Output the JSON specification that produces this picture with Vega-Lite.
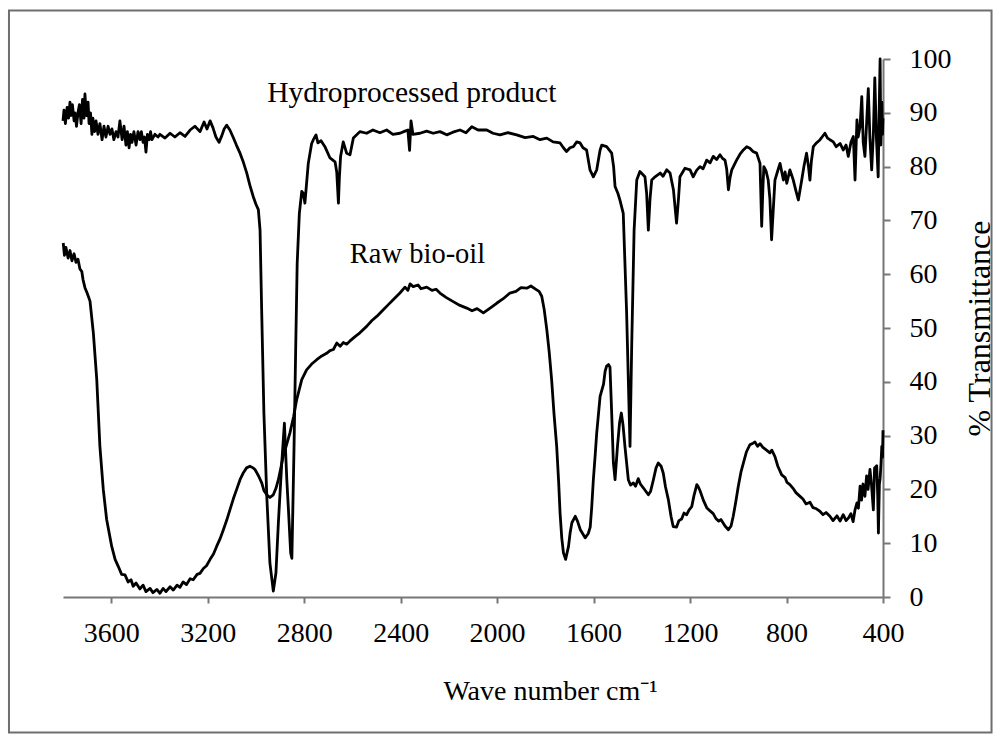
{
  "$schema": "https://vega.github.io/schema/vega-lite/v6.json",
  "width": 820,
  "height": 538,
  "autosize": {"type": "none"},
  "padding": {"left": 63, "top": 59, "right": 113, "bottom": 139},
  "background": "white",
  "config": {"view": {"stroke": null}, "font": "Liberation Serif"},
  "datasets": {
    "spectra": [
      {"series":"Hydroprocessed product","wn":3800,"T":88.5},{"series":"Hydroprocessed product","wn":3796,"T":90.5},{"series":"Hydroprocessed product","wn":3790,"T":88},{"series":"Hydroprocessed product","wn":3783,"T":91},{"series":"Hydroprocessed product","wn":3777,"T":89},{"series":"Hydroprocessed product","wn":3771,"T":92},{"series":"Hydroprocessed product","wn":3767,"T":89.5},{"series":"Hydroprocessed product","wn":3761,"T":91.5},{"series":"Hydroprocessed product","wn":3754,"T":88.5},{"series":"Hydroprocessed product","wn":3750,"T":90},{"series":"Hydroprocessed product","wn":3744,"T":87.5},{"series":"Hydroprocessed product","wn":3738,"T":90},{"series":"Hydroprocessed product","wn":3732,"T":91.5},{"series":"Hydroprocessed product","wn":3725,"T":88},{"series":"Hydroprocessed product","wn":3719,"T":92.5},{"series":"Hydroprocessed product","wn":3713,"T":89},{"series":"Hydroprocessed product","wn":3709,"T":93.5},{"series":"Hydroprocessed product","wn":3703,"T":89.5},{"series":"Hydroprocessed product","wn":3696,"T":92},{"series":"Hydroprocessed product","wn":3692,"T":88},{"series":"Hydroprocessed product","wn":3686,"T":90},{"series":"Hydroprocessed product","wn":3680,"T":86},{"series":"Hydroprocessed product","wn":3676,"T":89},{"series":"Hydroprocessed product","wn":3669,"T":86.5},{"series":"Hydroprocessed product","wn":3663,"T":88.5},{"series":"Hydroprocessed product","wn":3655,"T":86},{"series":"Hydroprocessed product","wn":3647,"T":88},{"series":"Hydroprocessed product","wn":3638,"T":85},{"series":"Hydroprocessed product","wn":3630,"T":87.5},{"series":"Hydroprocessed product","wn":3622,"T":85.5},{"series":"Hydroprocessed product","wn":3613,"T":87.5},{"series":"Hydroprocessed product","wn":3605,"T":86},{"series":"Hydroprocessed product","wn":3597,"T":87},{"series":"Hydroprocessed product","wn":3589,"T":85},{"series":"Hydroprocessed product","wn":3580,"T":86.5},{"series":"Hydroprocessed product","wn":3572,"T":85.5},{"series":"Hydroprocessed product","wn":3564,"T":88.5},{"series":"Hydroprocessed product","wn":3555,"T":85},{"series":"Hydroprocessed product","wn":3547,"T":87.5},{"series":"Hydroprocessed product","wn":3539,"T":84},{"series":"Hydroprocessed product","wn":3533,"T":86.5},{"series":"Hydroprocessed product","wn":3526,"T":83.5},{"series":"Hydroprocessed product","wn":3520,"T":86},{"series":"Hydroprocessed product","wn":3514,"T":84.5},{"series":"Hydroprocessed product","wn":3506,"T":86.5},{"series":"Hydroprocessed product","wn":3497,"T":84},{"series":"Hydroprocessed product","wn":3489,"T":86.5},{"series":"Hydroprocessed product","wn":3481,"T":85},{"series":"Hydroprocessed product","wn":3475,"T":86.5},{"series":"Hydroprocessed product","wn":3468,"T":84.5},{"series":"Hydroprocessed product","wn":3462,"T":85.5},{"series":"Hydroprocessed product","wn":3456,"T":82.7},{"series":"Hydroprocessed product","wn":3450,"T":86},{"series":"Hydroprocessed product","wn":3443,"T":85},{"series":"Hydroprocessed product","wn":3437,"T":86.5},{"series":"Hydroprocessed product","wn":3431,"T":85},{"series":"Hydroprocessed product","wn":3419,"T":86},{"series":"Hydroprocessed product","wn":3406,"T":85.5},{"series":"Hydroprocessed product","wn":3398,"T":86},{"series":"Hydroprocessed product","wn":3377,"T":85.3},{"series":"Hydroprocessed product","wn":3356,"T":86.2},{"series":"Hydroprocessed product","wn":3336,"T":85.5},{"series":"Hydroprocessed product","wn":3315,"T":86.3},{"series":"Hydroprocessed product","wn":3294,"T":85.6},{"series":"Hydroprocessed product","wn":3273,"T":86.8},{"series":"Hydroprocessed product","wn":3253,"T":87.5},{"series":"Hydroprocessed product","wn":3232,"T":86.5},{"series":"Hydroprocessed product","wn":3215,"T":88.3},{"series":"Hydroprocessed product","wn":3203,"T":87},{"series":"Hydroprocessed product","wn":3190,"T":88.5},{"series":"Hydroprocessed product","wn":3178,"T":87.2},{"series":"Hydroprocessed product","wn":3166,"T":85.5},{"series":"Hydroprocessed product","wn":3153,"T":84.5},{"series":"Hydroprocessed product","wn":3141,"T":85.8},{"series":"Hydroprocessed product","wn":3132,"T":87},{"series":"Hydroprocessed product","wn":3121,"T":87.7},{"series":"Hydroprocessed product","wn":3108,"T":86.8},{"series":"Hydroprocessed product","wn":3095,"T":85.5},{"series":"Hydroprocessed product","wn":3081,"T":84},{"series":"Hydroprocessed product","wn":3066,"T":82.5},{"series":"Hydroprocessed product","wn":3052,"T":80.8},{"series":"Hydroprocessed product","wn":3038,"T":78.8},{"series":"Hydroprocessed product","wn":3025,"T":76.5},{"series":"Hydroprocessed product","wn":3011,"T":74.4},{"series":"Hydroprocessed product","wn":3000,"T":73},{"series":"Hydroprocessed product","wn":2990,"T":72},{"series":"Hydroprocessed product","wn":2983,"T":68.2},{"series":"Hydroprocessed product","wn":2976,"T":52.8},{"series":"Hydroprocessed product","wn":2967,"T":34.2},{"series":"Hydroprocessed product","wn":2955,"T":18.7},{"series":"Hydroprocessed product","wn":2942,"T":6.3},{"series":"Hydroprocessed product","wn":2928,"T":1.1},{"series":"Hydroprocessed product","wn":2917,"T":4.5},{"series":"Hydroprocessed product","wn":2907,"T":13.8},{"series":"Hydroprocessed product","wn":2893,"T":24.9},{"series":"Hydroprocessed product","wn":2882,"T":32.3},{"series":"Hydroprocessed product","wn":2872,"T":21.8},{"series":"Hydroprocessed product","wn":2866,"T":16.9},{"series":"Hydroprocessed product","wn":2856,"T":8.2},{"series":"Hydroprocessed product","wn":2851,"T":7.2},{"series":"Hydroprocessed product","wn":2842,"T":28},{"series":"Hydroprocessed product","wn":2835,"T":46.6},{"series":"Hydroprocessed product","wn":2829,"T":62},{"series":"Hydroprocessed product","wn":2820,"T":71.3},{"series":"Hydroprocessed product","wn":2810,"T":75.4},{"series":"Hydroprocessed product","wn":2803,"T":75},{"series":"Hydroprocessed product","wn":2797,"T":73.2},{"series":"Hydroprocessed product","wn":2783,"T":80.6},{"series":"Hydroprocessed product","wn":2769,"T":84.3},{"series":"Hydroprocessed product","wn":2762,"T":85},{"series":"Hydroprocessed product","wn":2751,"T":85.9},{"series":"Hydroprocessed product","wn":2743,"T":84.4},{"series":"Hydroprocessed product","wn":2730,"T":84.8},{"series":"Hydroprocessed product","wn":2714,"T":83.7},{"series":"Hydroprocessed product","wn":2693,"T":81.6},{"series":"Hydroprocessed product","wn":2672,"T":80.9},{"series":"Hydroprocessed product","wn":2665,"T":79},{"series":"Hydroprocessed product","wn":2658,"T":73.2},{"series":"Hydroprocessed product","wn":2654,"T":78},{"series":"Hydroprocessed product","wn":2649,"T":81.9},{"series":"Hydroprocessed product","wn":2638,"T":84.6},{"series":"Hydroprocessed product","wn":2624,"T":82.5},{"series":"Hydroprocessed product","wn":2610,"T":82.2},{"series":"Hydroprocessed product","wn":2596,"T":85.3},{"series":"Hydroprocessed product","wn":2569,"T":86.5},{"series":"Hydroprocessed product","wn":2541,"T":86.2},{"series":"Hydroprocessed product","wn":2515,"T":86.8},{"series":"Hydroprocessed product","wn":2486,"T":86.3},{"series":"Hydroprocessed product","wn":2458,"T":86.8},{"series":"Hydroprocessed product","wn":2432,"T":86},{"series":"Hydroprocessed product","wn":2403,"T":86.2},{"series":"Hydroprocessed product","wn":2382,"T":86.6},{"series":"Hydroprocessed product","wn":2370,"T":86.8},{"series":"Hydroprocessed product","wn":2363,"T":83},{"series":"Hydroprocessed product","wn":2357,"T":88.5},{"series":"Hydroprocessed product","wn":2349,"T":86},{"series":"Hydroprocessed product","wn":2320,"T":86.2},{"series":"Hydroprocessed product","wn":2292,"T":86.6},{"series":"Hydroprocessed product","wn":2265,"T":86.2},{"series":"Hydroprocessed product","wn":2237,"T":86.5},{"series":"Hydroprocessed product","wn":2209,"T":85.9},{"series":"Hydroprocessed product","wn":2183,"T":86.4},{"series":"Hydroprocessed product","wn":2154,"T":86.8},{"series":"Hydroprocessed product","wn":2129,"T":86.3},{"series":"Hydroprocessed product","wn":2105,"T":87.4},{"series":"Hydroprocessed product","wn":2079,"T":86.8},{"series":"Hydroprocessed product","wn":2043,"T":86.8},{"series":"Hydroprocessed product","wn":2017,"T":86.2},{"series":"Hydroprocessed product","wn":1988,"T":85.9},{"series":"Hydroprocessed product","wn":1955,"T":86.3},{"series":"Hydroprocessed product","wn":1919,"T":85.9},{"series":"Hydroprocessed product","wn":1884,"T":85.4},{"series":"Hydroprocessed product","wn":1850,"T":85.6},{"series":"Hydroprocessed product","wn":1822,"T":85},{"series":"Hydroprocessed product","wn":1794,"T":85.3},{"series":"Hydroprocessed product","wn":1768,"T":84.6},{"series":"Hydroprocessed product","wn":1739,"T":84.4},{"series":"Hydroprocessed product","wn":1725,"T":83.5},{"series":"Hydroprocessed product","wn":1712,"T":82.8},{"series":"Hydroprocessed product","wn":1698,"T":83.5},{"series":"Hydroprocessed product","wn":1684,"T":83.7},{"series":"Hydroprocessed product","wn":1670,"T":84.6},{"series":"Hydroprocessed product","wn":1656,"T":84.4},{"series":"Hydroprocessed product","wn":1644,"T":83.5},{"series":"Hydroprocessed product","wn":1629,"T":83.1},{"series":"Hydroprocessed product","wn":1615,"T":79.4},{"series":"Hydroprocessed product","wn":1601,"T":78.1},{"series":"Hydroprocessed product","wn":1587,"T":79.4},{"series":"Hydroprocessed product","wn":1573,"T":83.1},{"series":"Hydroprocessed product","wn":1566,"T":84},{"series":"Hydroprocessed product","wn":1546,"T":83.7},{"series":"Hydroprocessed product","wn":1525,"T":82.5},{"series":"Hydroprocessed product","wn":1517,"T":80},{"series":"Hydroprocessed product","wn":1511,"T":76.3},{"series":"Hydroprocessed product","wn":1499,"T":75},{"series":"Hydroprocessed product","wn":1491,"T":73.8},{"series":"Hydroprocessed product","wn":1477,"T":71.3},{"series":"Hydroprocessed product","wn":1463,"T":52.8},{"series":"Hydroprocessed product","wn":1456,"T":40.4},{"series":"Hydroprocessed product","wn":1449,"T":28},{"series":"Hydroprocessed product","wn":1442,"T":46.6},{"series":"Hydroprocessed product","wn":1432,"T":68.2},{"series":"Hydroprocessed product","wn":1421,"T":77.5},{"series":"Hydroprocessed product","wn":1408,"T":79.1},{"series":"Hydroprocessed product","wn":1387,"T":78.1},{"series":"Hydroprocessed product","wn":1380,"T":75},{"series":"Hydroprocessed product","wn":1373,"T":68.2},{"series":"Hydroprocessed product","wn":1366,"T":74},{"series":"Hydroprocessed product","wn":1359,"T":77.5},{"series":"Hydroprocessed product","wn":1345,"T":78.1},{"series":"Hydroprocessed product","wn":1324,"T":78.8},{"series":"Hydroprocessed product","wn":1312,"T":78.2},{"series":"Hydroprocessed product","wn":1297,"T":79.4},{"series":"Hydroprocessed product","wn":1283,"T":78.8},{"series":"Hydroprocessed product","wn":1269,"T":75.7},{"series":"Hydroprocessed product","wn":1256,"T":69.5},{"series":"Hydroprocessed product","wn":1248,"T":74},{"series":"Hydroprocessed product","wn":1242,"T":78.1},{"series":"Hydroprocessed product","wn":1221,"T":79.7},{"series":"Hydroprocessed product","wn":1200,"T":79.4},{"series":"Hydroprocessed product","wn":1187,"T":78.1},{"series":"Hydroprocessed product","wn":1173,"T":79.3},{"series":"Hydroprocessed product","wn":1159,"T":80},{"series":"Hydroprocessed product","wn":1146,"T":79.6},{"series":"Hydroprocessed product","wn":1131,"T":81.2},{"series":"Hydroprocessed product","wn":1117,"T":80.7},{"series":"Hydroprocessed product","wn":1104,"T":81.9},{"series":"Hydroprocessed product","wn":1090,"T":81.3},{"series":"Hydroprocessed product","wn":1076,"T":82.2},{"series":"Hydroprocessed product","wn":1065,"T":81.5},{"series":"Hydroprocessed product","wn":1055,"T":81.2},{"series":"Hydroprocessed product","wn":1048,"T":79.5},{"series":"Hydroprocessed product","wn":1041,"T":75.7},{"series":"Hydroprocessed product","wn":1034,"T":78},{"series":"Hydroprocessed product","wn":1027,"T":79.4},{"series":"Hydroprocessed product","wn":1007,"T":81.2},{"series":"Hydroprocessed product","wn":993,"T":82.3},{"series":"Hydroprocessed product","wn":979,"T":83.1},{"series":"Hydroprocessed product","wn":965,"T":83.7},{"series":"Hydroprocessed product","wn":952,"T":83.4},{"series":"Hydroprocessed product","wn":939,"T":82.8},{"series":"Hydroprocessed product","wn":924,"T":82.5},{"series":"Hydroprocessed product","wn":910,"T":80.6},{"series":"Hydroprocessed product","wn":903,"T":68.9},{"series":"Hydroprocessed product","wn":898,"T":76},{"series":"Hydroprocessed product","wn":894,"T":80},{"series":"Hydroprocessed product","wn":885,"T":79.2},{"series":"Hydroprocessed product","wn":876,"T":77.5},{"series":"Hydroprocessed product","wn":869,"T":74},{"series":"Hydroprocessed product","wn":862,"T":66.4},{"series":"Hydroprocessed product","wn":855,"T":72},{"series":"Hydroprocessed product","wn":848,"T":77.5},{"series":"Hydroprocessed product","wn":838,"T":79},{"series":"Hydroprocessed product","wn":827,"T":80.6},{"series":"Hydroprocessed product","wn":813,"T":77.5},{"series":"Hydroprocessed product","wn":806,"T":79},{"series":"Hydroprocessed product","wn":799,"T":76.9},{"series":"Hydroprocessed product","wn":786,"T":79.4},{"series":"Hydroprocessed product","wn":772,"T":77.5},{"series":"Hydroprocessed product","wn":761,"T":75.5},{"series":"Hydroprocessed product","wn":751,"T":73.8},{"series":"Hydroprocessed product","wn":737,"T":77.5},{"series":"Hydroprocessed product","wn":728,"T":80},{"series":"Hydroprocessed product","wn":717,"T":82.5},{"series":"Hydroprocessed product","wn":709,"T":80},{"series":"Hydroprocessed product","wn":703,"T":77.5},{"series":"Hydroprocessed product","wn":697,"T":81},{"series":"Hydroprocessed product","wn":689,"T":83.7},{"series":"Hydroprocessed product","wn":676,"T":84.4},{"series":"Hydroprocessed product","wn":661,"T":85},{"series":"Hydroprocessed product","wn":651,"T":85.6},{"series":"Hydroprocessed product","wn":641,"T":86.2},{"series":"Hydroprocessed product","wn":630,"T":85.3},{"series":"Hydroprocessed product","wn":620,"T":85},{"series":"Hydroprocessed product","wn":606,"T":84.6},{"series":"Hydroprocessed product","wn":594,"T":83.7},{"series":"Hydroprocessed product","wn":578,"T":84.3},{"series":"Hydroprocessed product","wn":565,"T":83.1},{"series":"Hydroprocessed product","wn":553,"T":84},{"series":"Hydroprocessed product","wn":544,"T":81.9},{"series":"Hydroprocessed product","wn":533,"T":84.5},{"series":"Hydroprocessed product","wn":523,"T":85.6},{"series":"Hydroprocessed product","wn":516,"T":77.5},{"series":"Hydroprocessed product","wn":508,"T":88.7},{"series":"Hydroprocessed product","wn":503,"T":85.5},{"series":"Hydroprocessed product","wn":495,"T":87.5},{"series":"Hydroprocessed product","wn":488,"T":93},{"series":"Hydroprocessed product","wn":482,"T":84.5},{"series":"Hydroprocessed product","wn":475,"T":81.9},{"series":"Hydroprocessed product","wn":468,"T":88},{"series":"Hydroprocessed product","wn":461,"T":94.5},{"series":"Hydroprocessed product","wn":454,"T":85},{"series":"Hydroprocessed product","wn":447,"T":79.4},{"series":"Hydroprocessed product","wn":440,"T":86},{"series":"Hydroprocessed product","wn":434,"T":96.5},{"series":"Hydroprocessed product","wn":427,"T":85},{"series":"Hydroprocessed product","wn":420,"T":78.1},{"series":"Hydroprocessed product","wn":416,"T":90},{"series":"Hydroprocessed product","wn":412,"T":100},{"series":"Hydroprocessed product","wn":409,"T":84},{"series":"Hydroprocessed product","wn":405,"T":92},{"series":"Hydroprocessed product","wn":402,"T":86},{"series":"Hydroprocessed product","wn":400,"T":89},
      {"series":"Raw bio-oil","wn":3799,"T":65.8},{"series":"Raw bio-oil","wn":3794,"T":63.5},{"series":"Raw bio-oil","wn":3788,"T":65},{"series":"Raw bio-oil","wn":3779,"T":63},{"series":"Raw bio-oil","wn":3771,"T":64.4},{"series":"Raw bio-oil","wn":3763,"T":62.5},{"series":"Raw bio-oil","wn":3754,"T":63.8},{"series":"Raw bio-oil","wn":3746,"T":62.2},{"series":"Raw bio-oil","wn":3738,"T":62.8},{"series":"Raw bio-oil","wn":3730,"T":61},{"series":"Raw bio-oil","wn":3722,"T":60.5},{"series":"Raw bio-oil","wn":3717,"T":59},{"series":"Raw bio-oil","wn":3709,"T":57.5},{"series":"Raw bio-oil","wn":3700,"T":56.5},{"series":"Raw bio-oil","wn":3688,"T":55},{"series":"Raw bio-oil","wn":3674,"T":49},{"series":"Raw bio-oil","wn":3660,"T":40.4},{"series":"Raw bio-oil","wn":3647,"T":28},{"series":"Raw bio-oil","wn":3633,"T":20},{"series":"Raw bio-oil","wn":3619,"T":14.4},{"series":"Raw bio-oil","wn":3598,"T":9.4},{"series":"Raw bio-oil","wn":3584,"T":7},{"series":"Raw bio-oil","wn":3571,"T":5.7},{"series":"Raw bio-oil","wn":3557,"T":4.2},{"series":"Raw bio-oil","wn":3543,"T":4.1},{"series":"Raw bio-oil","wn":3530,"T":2.8},{"series":"Raw bio-oil","wn":3518,"T":3.2},{"series":"Raw bio-oil","wn":3509,"T":2},{"series":"Raw bio-oil","wn":3497,"T":2.6},{"series":"Raw bio-oil","wn":3481,"T":1.5},{"series":"Raw bio-oil","wn":3468,"T":2.2},{"series":"Raw bio-oil","wn":3456,"T":1},{"series":"Raw bio-oil","wn":3439,"T":1.6},{"series":"Raw bio-oil","wn":3427,"T":0.8},{"series":"Raw bio-oil","wn":3411,"T":1.4},{"series":"Raw bio-oil","wn":3398,"T":0.7},{"series":"Raw bio-oil","wn":3385,"T":1.6},{"series":"Raw bio-oil","wn":3373,"T":1},{"series":"Raw bio-oil","wn":3356,"T":1.9},{"series":"Raw bio-oil","wn":3343,"T":1.3},{"series":"Raw bio-oil","wn":3327,"T":2.2},{"series":"Raw bio-oil","wn":3315,"T":1.8},{"series":"Raw bio-oil","wn":3302,"T":2.8},{"series":"Raw bio-oil","wn":3288,"T":2.3},{"series":"Raw bio-oil","wn":3273,"T":3.4},{"series":"Raw bio-oil","wn":3260,"T":3.2},{"series":"Raw bio-oil","wn":3244,"T":4.2},{"series":"Raw bio-oil","wn":3232,"T":4.4},{"series":"Raw bio-oil","wn":3218,"T":5.3},{"series":"Raw bio-oil","wn":3205,"T":5.8},{"series":"Raw bio-oil","wn":3190,"T":7},{"series":"Raw bio-oil","wn":3176,"T":8},{"series":"Raw bio-oil","wn":3163,"T":9.4},{"series":"Raw bio-oil","wn":3149,"T":10.8},{"series":"Raw bio-oil","wn":3135,"T":12.5},{"series":"Raw bio-oil","wn":3121,"T":14.3},{"series":"Raw bio-oil","wn":3108,"T":16.2},{"series":"Raw bio-oil","wn":3094,"T":18.2},{"series":"Raw bio-oil","wn":3080,"T":20},{"series":"Raw bio-oil","wn":3066,"T":21.8},{"series":"Raw bio-oil","wn":3052,"T":23.1},{"series":"Raw bio-oil","wn":3039,"T":24},{"series":"Raw bio-oil","wn":3025,"T":24.3},{"series":"Raw bio-oil","wn":3012,"T":24},{"series":"Raw bio-oil","wn":3004,"T":23.7},{"series":"Raw bio-oil","wn":2989,"T":22.5},{"series":"Raw bio-oil","wn":2976,"T":21.2},{"series":"Raw bio-oil","wn":2967,"T":19.8},{"series":"Raw bio-oil","wn":2955,"T":19},{"series":"Raw bio-oil","wn":2942,"T":18.5},{"series":"Raw bio-oil","wn":2928,"T":19},{"series":"Raw bio-oil","wn":2917,"T":20.2},{"series":"Raw bio-oil","wn":2907,"T":21.8},{"series":"Raw bio-oil","wn":2887,"T":26.1},{"series":"Raw bio-oil","wn":2859,"T":30.5},{"series":"Raw bio-oil","wn":2844,"T":33.5},{"series":"Raw bio-oil","wn":2831,"T":36.7},{"series":"Raw bio-oil","wn":2810,"T":40.4},{"series":"Raw bio-oil","wn":2790,"T":42.2},{"series":"Raw bio-oil","wn":2769,"T":43.3},{"series":"Raw bio-oil","wn":2748,"T":44.1},{"series":"Raw bio-oil","wn":2727,"T":44.8},{"series":"Raw bio-oil","wn":2707,"T":45.3},{"series":"Raw bio-oil","wn":2693,"T":45.8},{"series":"Raw bio-oil","wn":2679,"T":46},{"series":"Raw bio-oil","wn":2665,"T":47.2},{"series":"Raw bio-oil","wn":2651,"T":46.6},{"series":"Raw bio-oil","wn":2638,"T":47.3},{"series":"Raw bio-oil","wn":2624,"T":47},{"series":"Raw bio-oil","wn":2610,"T":47.6},{"series":"Raw bio-oil","wn":2589,"T":48.4},{"series":"Raw bio-oil","wn":2569,"T":49.1},{"series":"Raw bio-oil","wn":2541,"T":50.3},{"series":"Raw bio-oil","wn":2519,"T":51.4},{"series":"Raw bio-oil","wn":2498,"T":52.2},{"series":"Raw bio-oil","wn":2472,"T":53.4},{"series":"Raw bio-oil","wn":2452,"T":54.3},{"series":"Raw bio-oil","wn":2432,"T":55.2},{"series":"Raw bio-oil","wn":2403,"T":56.5},{"series":"Raw bio-oil","wn":2382,"T":57.6},{"series":"Raw bio-oil","wn":2370,"T":57},{"series":"Raw bio-oil","wn":2361,"T":58.2},{"series":"Raw bio-oil","wn":2348,"T":57.7},{"series":"Raw bio-oil","wn":2328,"T":58},{"series":"Raw bio-oil","wn":2316,"T":57.3},{"series":"Raw bio-oil","wn":2292,"T":57.6},{"series":"Raw bio-oil","wn":2270,"T":57},{"series":"Raw bio-oil","wn":2253,"T":57.2},{"series":"Raw bio-oil","wn":2237,"T":56.5},{"series":"Raw bio-oil","wn":2212,"T":55.7},{"series":"Raw bio-oil","wn":2182,"T":54.9},{"series":"Raw bio-oil","wn":2154,"T":54.2},{"series":"Raw bio-oil","wn":2126,"T":53.7},{"series":"Raw bio-oil","wn":2104,"T":53.2},{"series":"Raw bio-oil","wn":2083,"T":53.6},{"series":"Raw bio-oil","wn":2057,"T":52.8},{"series":"Raw bio-oil","wn":2029,"T":53.7},{"series":"Raw bio-oil","wn":2002,"T":54.6},{"series":"Raw bio-oil","wn":1976,"T":55.4},{"series":"Raw bio-oil","wn":1947,"T":56.5},{"series":"Raw bio-oil","wn":1922,"T":56.8},{"series":"Raw bio-oil","wn":1901,"T":57.5},{"series":"Raw bio-oil","wn":1877,"T":57.4},{"series":"Raw bio-oil","wn":1860,"T":57.8},{"series":"Raw bio-oil","wn":1836,"T":57.1},{"series":"Raw bio-oil","wn":1826,"T":56.8},{"series":"Raw bio-oil","wn":1815,"T":55.9},{"series":"Raw bio-oil","wn":1805,"T":53.5},{"series":"Raw bio-oil","wn":1794,"T":49.7},{"series":"Raw bio-oil","wn":1784,"T":45.5},{"series":"Raw bio-oil","wn":1774,"T":40.4},{"series":"Raw bio-oil","wn":1764,"T":34},{"series":"Raw bio-oil","wn":1753,"T":28},{"series":"Raw bio-oil","wn":1745,"T":21.5},{"series":"Raw bio-oil","wn":1739,"T":15.6},{"series":"Raw bio-oil","wn":1732,"T":11},{"series":"Raw bio-oil","wn":1725,"T":8.2},{"series":"Raw bio-oil","wn":1716,"T":7},{"series":"Raw bio-oil","wn":1704,"T":9.4},{"series":"Raw bio-oil","wn":1697,"T":12},{"series":"Raw bio-oil","wn":1690,"T":13.8},{"series":"Raw bio-oil","wn":1676,"T":15},{"series":"Raw bio-oil","wn":1666,"T":14},{"series":"Raw bio-oil","wn":1655,"T":12.5},{"series":"Raw bio-oil","wn":1635,"T":11},{"series":"Raw bio-oil","wn":1622,"T":11.8},{"series":"Raw bio-oil","wn":1614,"T":13},{"series":"Raw bio-oil","wn":1608,"T":16.5},{"series":"Raw bio-oil","wn":1601,"T":21.8},{"series":"Raw bio-oil","wn":1594,"T":26},{"series":"Raw bio-oil","wn":1587,"T":30.5},{"series":"Raw bio-oil","wn":1573,"T":37.3},{"series":"Raw bio-oil","wn":1559,"T":39.5},{"series":"Raw bio-oil","wn":1552,"T":42},{"series":"Raw bio-oil","wn":1546,"T":42.9},{"series":"Raw bio-oil","wn":1538,"T":43.2},{"series":"Raw bio-oil","wn":1532,"T":42.7},{"series":"Raw bio-oil","wn":1525,"T":34.2},{"series":"Raw bio-oil","wn":1518,"T":25},{"series":"Raw bio-oil","wn":1511,"T":21.8},{"series":"Raw bio-oil","wn":1501,"T":28},{"series":"Raw bio-oil","wn":1492,"T":32.5},{"series":"Raw bio-oil","wn":1485,"T":34.2},{"series":"Raw bio-oil","wn":1478,"T":32},{"series":"Raw bio-oil","wn":1470,"T":28},{"series":"Raw bio-oil","wn":1456,"T":21.8},{"series":"Raw bio-oil","wn":1447,"T":20.8},{"series":"Raw bio-oil","wn":1435,"T":21.2},{"series":"Raw bio-oil","wn":1426,"T":20.6},{"series":"Raw bio-oil","wn":1415,"T":22},{"series":"Raw bio-oil","wn":1406,"T":21},{"series":"Raw bio-oil","wn":1394,"T":20.3},{"series":"Raw bio-oil","wn":1373,"T":19},{"series":"Raw bio-oil","wn":1364,"T":19.6},{"series":"Raw bio-oil","wn":1352,"T":21.8},{"series":"Raw bio-oil","wn":1341,"T":24},{"series":"Raw bio-oil","wn":1332,"T":24.9},{"series":"Raw bio-oil","wn":1320,"T":24.3},{"series":"Raw bio-oil","wn":1311,"T":23},{"series":"Raw bio-oil","wn":1302,"T":20.5},{"series":"Raw bio-oil","wn":1290,"T":18.1},{"series":"Raw bio-oil","wn":1279,"T":15},{"series":"Raw bio-oil","wn":1270,"T":13.1},{"series":"Raw bio-oil","wn":1256,"T":13},{"series":"Raw bio-oil","wn":1246,"T":14.2},{"series":"Raw bio-oil","wn":1235,"T":14.5},{"series":"Raw bio-oil","wn":1225,"T":15.6},{"series":"Raw bio-oil","wn":1214,"T":15.3},{"series":"Raw bio-oil","wn":1204,"T":16.2},{"series":"Raw bio-oil","wn":1193,"T":16.8},{"series":"Raw bio-oil","wn":1184,"T":18.8},{"series":"Raw bio-oil","wn":1172,"T":20.9},{"series":"Raw bio-oil","wn":1166,"T":20.5},{"series":"Raw bio-oil","wn":1159,"T":19.8},{"series":"Raw bio-oil","wn":1145,"T":18},{"series":"Raw bio-oil","wn":1131,"T":16.6},{"series":"Raw bio-oil","wn":1117,"T":16},{"series":"Raw bio-oil","wn":1104,"T":15.5},{"series":"Raw bio-oil","wn":1093,"T":14.6},{"series":"Raw bio-oil","wn":1081,"T":14.1},{"series":"Raw bio-oil","wn":1072,"T":14.4},{"series":"Raw bio-oil","wn":1055,"T":13.2},{"series":"Raw bio-oil","wn":1041,"T":12.5},{"series":"Raw bio-oil","wn":1030,"T":13.2},{"series":"Raw bio-oil","wn":1021,"T":15},{"series":"Raw bio-oil","wn":1010,"T":17.8},{"series":"Raw bio-oil","wn":1000,"T":20.6},{"series":"Raw bio-oil","wn":989,"T":23.2},{"series":"Raw bio-oil","wn":979,"T":24.9},{"series":"Raw bio-oil","wn":966,"T":27},{"series":"Raw bio-oil","wn":952,"T":28.3},{"series":"Raw bio-oil","wn":939,"T":28.6},{"series":"Raw bio-oil","wn":931,"T":28.8},{"series":"Raw bio-oil","wn":920,"T":28},{"series":"Raw bio-oil","wn":910,"T":28.5},{"series":"Raw bio-oil","wn":898,"T":27.8},{"series":"Raw bio-oil","wn":883,"T":27.3},{"series":"Raw bio-oil","wn":869,"T":26.8},{"series":"Raw bio-oil","wn":861,"T":27.3},{"series":"Raw bio-oil","wn":848,"T":26.1},{"series":"Raw bio-oil","wn":836,"T":24.3},{"series":"Raw bio-oil","wn":820,"T":22.7},{"series":"Raw bio-oil","wn":806,"T":22.2},{"series":"Raw bio-oil","wn":798,"T":21.3},{"series":"Raw bio-oil","wn":786,"T":20.9},{"series":"Raw bio-oil","wn":773,"T":20.2},{"series":"Raw bio-oil","wn":761,"T":19.4},{"series":"Raw bio-oil","wn":744,"T":18.7},{"series":"Raw bio-oil","wn":732,"T":18.2},{"series":"Raw bio-oil","wn":719,"T":17.3},{"series":"Raw bio-oil","wn":703,"T":17.6},{"series":"Raw bio-oil","wn":690,"T":16.6},{"series":"Raw bio-oil","wn":676,"T":16.4},{"series":"Raw bio-oil","wn":661,"T":15.9},{"series":"Raw bio-oil","wn":649,"T":15.3},{"series":"Raw bio-oil","wn":636,"T":15.7},{"series":"Raw bio-oil","wn":620,"T":15},{"series":"Raw bio-oil","wn":607,"T":14.2},{"series":"Raw bio-oil","wn":591,"T":15.1},{"series":"Raw bio-oil","wn":578,"T":14.1},{"series":"Raw bio-oil","wn":565,"T":15.3},{"series":"Raw bio-oil","wn":553,"T":14.2},{"series":"Raw bio-oil","wn":543,"T":14.7},{"series":"Raw bio-oil","wn":533,"T":15.5},{"series":"Raw bio-oil","wn":524,"T":14},{"series":"Raw bio-oil","wn":516,"T":16.2},{"series":"Raw bio-oil","wn":508,"T":17.5},{"series":"Raw bio-oil","wn":502,"T":16.5},{"series":"Raw bio-oil","wn":495,"T":20.6},{"series":"Raw bio-oil","wn":489,"T":18},{"series":"Raw bio-oil","wn":483,"T":21},{"series":"Raw bio-oil","wn":475,"T":18.7},{"series":"Raw bio-oil","wn":468,"T":22.5},{"series":"Raw bio-oil","wn":462,"T":20},{"series":"Raw bio-oil","wn":454,"T":23.7},{"series":"Raw bio-oil","wn":448,"T":21},{"series":"Raw bio-oil","wn":440,"T":16.2},{"series":"Raw bio-oil","wn":435,"T":24},{"series":"Raw bio-oil","wn":426,"T":24.4},{"series":"Raw bio-oil","wn":422,"T":19},{"series":"Raw bio-oil","wn":419,"T":11.9},{"series":"Raw bio-oil","wn":415,"T":21},{"series":"Raw bio-oil","wn":412,"T":22},{"series":"Raw bio-oil","wn":408,"T":25},{"series":"Raw bio-oil","wn":405,"T":28},{"series":"Raw bio-oil","wn":402,"T":26},{"series":"Raw bio-oil","wn":400,"T":31}
    ]
  },
  "layer": [
    {
      "data": {"name": "spectra"},
      "mark": {"type": "line", "color": "black", "strokeWidth": 2.8, "strokeJoin": "round"},
      "encoding": {
        "x": {
          "field": "wn", "type": "quantitative",
          "scale": {"domain": [400, 3800], "reverse": true, "nice": false, "zero": false},
          "axis": {
            "title": "Wave number cm⁻¹",
            "values": [3600, 3200, 2800, 2400, 2000, 1600, 1200, 800, 400],
            "format": "d",
            "grid": false,
            "domainColor": "#777777", "domainWidth": 2,
            "tickColor": "#777777", "tickWidth": 2, "tickSize": 6,
            "labelFont": "Liberation Serif", "labelFontSize": 28, "labelColor": "black",
            "labelBaseline": "alphabetic", "labelPadding": 38, "labelFlush": false, "labelOverlap": false,
            "titleFont": "Liberation Serif", "titleFontSize": 28, "titleFontWeight": "normal", "titleColor": "black",
            "titleX": 487, "titleY": 102, "titleAlign": "center", "titleBaseline": "alphabetic"
          }
        },
        "y": {
          "field": "T", "type": "quantitative",
          "scale": {"domain": [0, 100], "nice": false, "zero": false},
          "axis": {
            "orient": "right",
            "title": "% Transmittance",
            "values": [0, 10, 20, 30, 40, 50, 60, 70, 80, 90, 100],
            "grid": false,
            "domainColor": "#777777", "domainWidth": 2,
            "tickColor": "#777777", "tickWidth": 2, "tickSize": 7,
            "labelFont": "Liberation Serif", "labelFontSize": 28, "labelColor": "black",
            "labelAlign": "left", "labelBaseline": "middle", "labelPadding": 19, "labelFlush": false, "labelOverlap": false,
            "titleFont": "Liberation Serif", "titleFontSize": 32, "titleFontWeight": "normal", "titleColor": "black",
            "titleAngle": 270, "titleX": 96, "titleY": 269, "titleAlign": "center", "titleBaseline": "middle"
          }
        },
        "detail": {"field": "series", "type": "nominal"}
      }
    },
    {
      "data": {"values": [{}]},
      "mark": {"type": "rect", "filled": false, "stroke": "#6e6e6e", "strokeWidth": 2},
      "encoding": {
        "x": {"datum": 4024, "type": "quantitative", "scale": {"domain": [400, 3800], "reverse": true, "nice": false, "zero": false}},
        "x2": {"datum": -50},
        "y": {"datum": 109, "type": "quantitative", "scale": {"domain": [0, 100], "nice": false, "zero": false}},
        "y2": {"datum": -25.2}
      }
    },
    {
      "data": {"values": [{}]},
      "mark": {"type": "text", "text": "Hydroprocessed product", "font": "Liberation Serif", "fontSize": 29.5, "color": "black", "align": "center", "baseline": "alphabetic"},
      "encoding": {
        "x": {"datum": 2354, "type": "quantitative", "scale": {"domain": [400, 3800], "reverse": true, "nice": false, "zero": false}},
        "y": {"datum": 92, "type": "quantitative", "scale": {"domain": [0, 100], "nice": false, "zero": false}}
      }
    },
    {
      "data": {"values": [{}]},
      "mark": {"type": "text", "text": "Raw bio-oil", "font": "Liberation Serif", "fontSize": 28.5, "color": "black", "align": "center", "baseline": "alphabetic"},
      "encoding": {
        "x": {"datum": 2330, "type": "quantitative", "scale": {"domain": [400, 3800], "reverse": true, "nice": false, "zero": false}},
        "y": {"datum": 62.1, "type": "quantitative", "scale": {"domain": [0, 100], "nice": false, "zero": false}}
      }
    }
  ]
}
